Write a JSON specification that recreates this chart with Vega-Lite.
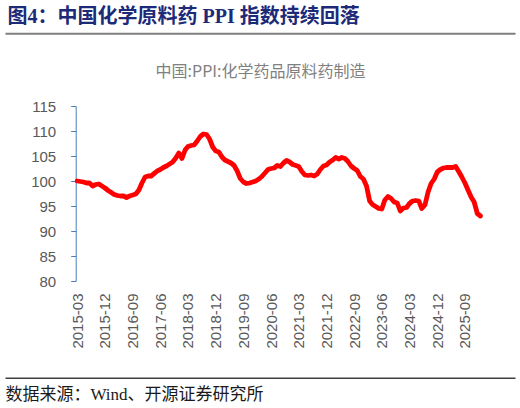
{
  "$schema": "https://vega.github.io/schema/vega-lite/v6.json",
  "autosize": "none",
  "width": 510,
  "height": 175,
  "padding": {"left": 5, "top": 106, "right": 5, "bottom": 127},
  "background": "#ffffff",
  "config": {"view": {"stroke": null}},
  "resolve": {"scale": {"x": "independent", "y": "independent"}, "axis": {"x": "independent", "y": "independent"}},
  "layer": [
    {
      "data": {"values": [
        {"date": "2015-03-01", "value": 100.0}, {"date": "2015-04-01", "value": 99.9}, {"date": "2015-05-01", "value": 99.8}, {"date": "2015-06-01", "value": 99.6}, {"date": "2015-07-01", "value": 99.6}, {"date": "2015-08-01", "value": 99.0}, {"date": "2015-09-01", "value": 99.3}, {"date": "2015-10-01", "value": 99.4}, {"date": "2015-11-01", "value": 99.0}, {"date": "2015-12-01", "value": 98.6},
        {"date": "2016-01-01", "value": 98.1}, {"date": "2016-02-01", "value": 97.7}, {"date": "2016-03-01", "value": 97.3}, {"date": "2016-04-01", "value": 97.1}, {"date": "2016-05-01", "value": 97.0}, {"date": "2016-06-01", "value": 97.0}, {"date": "2016-07-01", "value": 96.7}, {"date": "2016-08-01", "value": 97.0}, {"date": "2016-09-01", "value": 97.2}, {"date": "2016-10-01", "value": 97.4}, {"date": "2016-11-01", "value": 98.2}, {"date": "2016-12-01", "value": 99.6},
        {"date": "2017-01-01", "value": 100.8}, {"date": "2017-02-01", "value": 101.0}, {"date": "2017-03-01", "value": 101.0}, {"date": "2017-04-01", "value": 101.5}, {"date": "2017-05-01", "value": 102.0}, {"date": "2017-06-01", "value": 102.3}, {"date": "2017-07-01", "value": 102.7}, {"date": "2017-08-01", "value": 103.0}, {"date": "2017-09-01", "value": 103.4}, {"date": "2017-10-01", "value": 103.8}, {"date": "2017-11-01", "value": 104.6}, {"date": "2017-12-01", "value": 105.6},
        {"date": "2018-01-01", "value": 104.5}, {"date": "2018-02-01", "value": 106.2}, {"date": "2018-03-01", "value": 106.9}, {"date": "2018-04-01", "value": 107.1}, {"date": "2018-05-01", "value": 107.2}, {"date": "2018-06-01", "value": 108.0}, {"date": "2018-07-01", "value": 108.9}, {"date": "2018-08-01", "value": 109.4}, {"date": "2018-09-01", "value": 109.3}, {"date": "2018-10-01", "value": 108.4}, {"date": "2018-11-01", "value": 106.8}, {"date": "2018-12-01", "value": 106.0},
        {"date": "2019-01-01", "value": 105.8}, {"date": "2019-02-01", "value": 104.8}, {"date": "2019-03-01", "value": 104.2}, {"date": "2019-04-01", "value": 103.9}, {"date": "2019-05-01", "value": 103.6}, {"date": "2019-06-01", "value": 103.1}, {"date": "2019-07-01", "value": 102.0}, {"date": "2019-08-01", "value": 100.5}, {"date": "2019-09-01", "value": 99.8}, {"date": "2019-10-01", "value": 99.5}, {"date": "2019-11-01", "value": 99.6}, {"date": "2019-12-01", "value": 99.8},
        {"date": "2020-01-01", "value": 100.0}, {"date": "2020-02-01", "value": 100.4}, {"date": "2020-03-01", "value": 100.9}, {"date": "2020-04-01", "value": 101.6}, {"date": "2020-05-01", "value": 102.3}, {"date": "2020-06-01", "value": 102.5}, {"date": "2020-07-01", "value": 102.6}, {"date": "2020-08-01", "value": 103.1}, {"date": "2020-09-01", "value": 102.9}, {"date": "2020-10-01", "value": 103.6}, {"date": "2020-11-01", "value": 104.1}, {"date": "2020-12-01", "value": 103.8},
        {"date": "2021-01-01", "value": 103.3}, {"date": "2021-02-01", "value": 103.1}, {"date": "2021-03-01", "value": 102.9}, {"date": "2021-04-01", "value": 101.9}, {"date": "2021-05-01", "value": 101.2}, {"date": "2021-06-01", "value": 101.1}, {"date": "2021-07-01", "value": 101.2}, {"date": "2021-08-01", "value": 101.0}, {"date": "2021-09-01", "value": 101.4}, {"date": "2021-10-01", "value": 102.3}, {"date": "2021-11-01", "value": 103.0}, {"date": "2021-12-01", "value": 103.2},
        {"date": "2022-01-01", "value": 103.8}, {"date": "2022-02-01", "value": 104.2}, {"date": "2022-03-01", "value": 104.7}, {"date": "2022-04-01", "value": 104.4}, {"date": "2022-05-01", "value": 104.7}, {"date": "2022-06-01", "value": 104.5}, {"date": "2022-07-01", "value": 103.9}, {"date": "2022-08-01", "value": 103.0}, {"date": "2022-09-01", "value": 102.5}, {"date": "2022-10-01", "value": 102.1}, {"date": "2022-11-01", "value": 100.9}, {"date": "2022-12-01", "value": 100.4},
        {"date": "2023-01-01", "value": 99.0}, {"date": "2023-02-01", "value": 96.0}, {"date": "2023-03-01", "value": 95.3}, {"date": "2023-04-01", "value": 94.9}, {"date": "2023-05-01", "value": 94.5}, {"date": "2023-06-01", "value": 94.4}, {"date": "2023-07-01", "value": 96.2}, {"date": "2023-08-01", "value": 96.9}, {"date": "2023-09-01", "value": 96.5}, {"date": "2023-10-01", "value": 95.8}, {"date": "2023-11-01", "value": 95.6}, {"date": "2023-12-01", "value": 94.0},
        {"date": "2024-01-01", "value": 94.6}, {"date": "2024-02-01", "value": 94.7}, {"date": "2024-03-01", "value": 95.5}, {"date": "2024-04-01", "value": 96.0}, {"date": "2024-05-01", "value": 96.1}, {"date": "2024-06-01", "value": 96.0}, {"date": "2024-07-01", "value": 94.5}, {"date": "2024-08-01", "value": 95.2}, {"date": "2024-09-01", "value": 97.8}, {"date": "2024-10-01", "value": 99.5}, {"date": "2024-11-01", "value": 100.4}, {"date": "2024-12-01", "value": 101.8},
        {"date": "2025-01-01", "value": 102.3}, {"date": "2025-02-01", "value": 102.6}, {"date": "2025-03-01", "value": 102.7}, {"date": "2025-04-01", "value": 102.7}, {"date": "2025-05-01", "value": 102.7}, {"date": "2025-06-01", "value": 102.9}, {"date": "2025-07-01", "value": 101.9}, {"date": "2025-08-01", "value": 100.8}, {"date": "2025-09-01", "value": 99.6}, {"date": "2025-10-01", "value": 98.2}, {"date": "2025-11-01", "value": 96.8}, {"date": "2025-12-01", "value": 95.8},
        {"date": "2026-01-01", "value": 93.5}, {"date": "2026-02-01", "value": 93.0}
      ]},
      "mark": {"type": "line", "color": "#FF0000", "strokeWidth": 4.8, "strokeJoin": "round", "strokeCap": "round"},
      "encoding": {
        "x": {
          "field": "date", "type": "temporal",
          "scale": {"type": "utc", "domain": ["2013-03-17", "2027-01-09"]},
          "axis": {
            "orient": "bottom",
            "values": [
              {"year": 2015, "month": 3, "date": 1, "utc": true}, {"year": 2015, "month": 12, "date": 1, "utc": true},
              {"year": 2016, "month": 9, "date": 1, "utc": true}, {"year": 2017, "month": 6, "date": 1, "utc": true},
              {"year": 2018, "month": 3, "date": 1, "utc": true}, {"year": 2018, "month": 12, "date": 1, "utc": true},
              {"year": 2019, "month": 9, "date": 1, "utc": true}, {"year": 2020, "month": 6, "date": 1, "utc": true},
              {"year": 2021, "month": 3, "date": 1, "utc": true}, {"year": 2021, "month": 12, "date": 1, "utc": true},
              {"year": 2022, "month": 9, "date": 1, "utc": true}, {"year": 2023, "month": 6, "date": 1, "utc": true},
              {"year": 2024, "month": 3, "date": 1, "utc": true}, {"year": 2024, "month": 12, "date": 1, "utc": true},
              {"year": 2025, "month": 9, "date": 1, "utc": true}
            ],
            "labelExpr": "utcFormat(datum.value, '%Y-%m')",
            "labelAngle": -90, "labelAlign": "right", "labelBaseline": "middle",
            "labelPadding": 12, "labelFont": "Liberation Sans", "labelFontSize": 15, "labelColor": "#595959",
            "labelOverlap": false, "labelFlush": false,
            "domain": false, "ticks": false, "tickSize": 0, "grid": false,
            "title": "数据来源：Wind、开源证券研究所",
            "titleX": 0, "titleY": 113, "titleAlign": "left", "titleBaseline": "middle", "titleAngle": 0,
            "titleFont": "Liberation Serif, Noto Sans CJK SC", "titleFontSize": 17, "titleFontWeight": "normal", "titleColor": "#1a1a1a"
          }
        },
        "y": {
          "field": "value", "type": "quantitative",
          "scale": {"domain": [80, 115], "nice": false, "zero": false},
          "axis": {
            "orient": "left", "offset": -70.7,
            "values": [80, 85, 90, 95, 100, 105, 110, 115],
            "domainColor": "#4a7ebb", "domainWidth": 1,
            "ticks": true, "tickColor": "#4a7ebb", "tickSize": 5, "tickWidth": 1,
            "labelPadding": 15, "labelFont": "Liberation Sans", "labelFontSize": 15, "labelColor": "#595959",
            "grid": false,
            "title": "中国:PPI:化学药品原料药制造",
            "titleX": 184.3, "titleY": -34.5, "titleAngle": 0, "titleAlign": "center", "titleBaseline": "middle",
            "titleFont": "Noto Sans CJK SC", "titleFontSize": 16, "titleFontWeight": "normal", "titleColor": "#808080"
          }
        }
      }
    },
    {
      "mark": {"type": "rule", "color": "#D9D9D9", "strokeWidth": 1},
      "encoding": {
        "x": {"datum": {"year": 2015, "month": 2, "date": 15, "utc": true}, "type": "temporal", "scale": {"type": "utc", "domain": ["2013-03-17", "2027-01-09"]}, "axis": null},
        "x2": {"datum": {"year": 2026, "month": 2, "date": 15, "utc": true}},
        "y": {"datum": 80, "type": "quantitative", "scale": {"domain": [80, 115], "nice": false, "zero": false}, "axis": null}
      }
    },
    {
      "mark": {"type": "rule", "opacity": 0},
      "encoding": {
        "x": {
          "datum": {"year": 2015, "month": 3, "date": 1, "utc": true}, "type": "temporal",
          "scale": {"type": "utc", "domain": ["2013-03-17", "2027-01-09"]},
          "axis": {
            "orient": "top", "offset": 72.7,
            "domain": true, "domainColor": "#7f7f7f", "domainWidth": 2,
            "labels": false, "ticks": false, "grid": false,
            "title": "图4：中国化学原料药 PPI 指数持续回落",
            "titleX": 2, "titleY": -16.8, "titleAlign": "left", "titleBaseline": "middle", "titleAngle": 0,
            "titleFont": "Liberation Serif, Noto Sans CJK SC", "titleFontSize": 20, "titleFontWeight": "bold", "titleColor": "#1c2a78"
          }
        },
        "y": {"datum": 80, "type": "quantitative", "scale": {"domain": [80, 115], "nice": false, "zero": false}, "axis": null}
      }
    },
    {
      "mark": {"type": "rule", "opacity": 0},
      "encoding": {
        "x": {
          "datum": {"year": 2015, "month": 3, "date": 1, "utc": true}, "type": "temporal",
          "scale": {"type": "utc", "domain": ["2013-03-17", "2027-01-09"]},
          "axis": {
            "orient": "bottom", "offset": 96.7,
            "domain": true, "domainColor": "#404040", "domainWidth": 1.5,
            "labels": false, "ticks": false, "grid": false, "title": null
          }
        },
        "y": {"datum": 80, "type": "quantitative", "scale": {"domain": [80, 115], "nice": false, "zero": false}, "axis": null}
      }
    }
  ]
}
